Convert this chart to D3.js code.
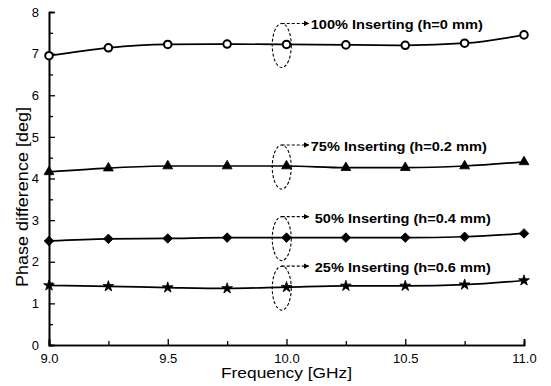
<!DOCTYPE html>
<html>
<head>
<meta charset="utf-8">
<script src="https://cdn.jsdelivr.net/npm/d3@7"></script>
<style>
  body { margin: 0; background: #fff; }
  svg { display: block; font-family: "Liberation Sans", Arial, sans-serif; }
</style>
</head>
<body>
<svg id="chart" width="551" height="386"></svg>
<script>
// data
var freq = [9.0, 9.25, 9.5, 9.75, 10.0, 10.25, 10.5, 10.75, 11.0];
var ins100 = [6.95, 7.14, 7.22, 7.23, 7.22, 7.21, 7.2, 7.25, 7.45];
var ins75 = [4.16, 4.25, 4.3, 4.3, 4.3, 4.26, 4.26, 4.3, 4.4];
var ins50 = [2.5, 2.55, 2.56, 2.58, 2.58, 2.58, 2.58, 2.6, 2.68];
var ins25 = [1.43, 1.41, 1.38, 1.36, 1.39, 1.42, 1.42, 1.45, 1.55];
var seriesNames = ["100% Inserting (h=0 mm)", "75% Inserting (h=0.2 mm)",
                   "50% Inserting (h=0.4 mm)", "25% Inserting (h=0.6 mm)"];
var markers = ["circle", "triangle", "diamond", "star"];
var xTicks = [9.0, 9.5, 10.0, 10.5, 11.0];
var yTicks = [0, 1, 2, 3, 4, 5, 6, 7, 8];

var margin = { left: 49, right: 27, top: 12, bottom: 41 };
var W = 551, H = 386;

var svg = d3.select("#chart");

var xScale = d3.scaleLinear().domain([9, 11]).range([margin.left, W - margin.right]);
var yScale = d3.scaleLinear().domain([0, 8]).range([H - margin.bottom, margin.top]);

var allSeries = [ins100, ins75, ins50, ins25];

// axes: left and bottom only, ticks pointing inwards
var gx = svg.append("g").attr("transform", "translate(0," + yScale(0) + ")");
gx.call(d3.axisBottom(xScale).tickValues(xTicks).tickSize(-6).tickPadding(9)
	.tickFormat(d3.format(".1f")));
gx.append("g").call(d3.axisBottom(xScale).tickValues([9.25, 9.75, 10.25, 10.75])
	.tickSize(-4).tickFormat(""));

var gy = svg.append("g").attr("transform", "translate(" + xScale(9) + ",0)");
gy.call(d3.axisLeft(yScale).tickValues(yTicks).tickSize(-6).tickPadding(10)
	.tickFormat(d3.format("d")));
gy.append("g").call(d3.axisLeft(yScale).tickValues(d3.range(0.5, 8, 1))
	.tickSize(-4).tickFormat(""));

svg.selectAll(".domain").attr("stroke", "#000").attr("stroke-width", 1.6);
svg.selectAll(".tick line").attr("stroke", "#000").attr("stroke-width", 1.3);
svg.selectAll(".tick text").attr("font-size", 13).attr("fill", "#000")
	.attr("font-family", "Liberation Sans, Arial, sans-serif");

svg.append("text")
	.attr("x", xScale(10)).attr("y", 378)
	.attr("text-anchor", "middle").attr("font-size", 14)
	.attr("textLength", 131).attr("lengthAdjust", "spacingAndGlyphs")
	.text("Frequency [GHz]");

svg.append("text")
	.attr("transform", "translate(28,197) rotate(-90)")
	.attr("text-anchor", "middle").attr("font-size", 16)
	.attr("textLength", 180).attr("lengthAdjust", "spacingAndGlyphs")
	.text("Phase difference [deg]");

// curves
var line = d3.line()
	.x(function (d, i) { return xScale(freq[i]); })
	.y(function (d) { return yScale(d); })
	.curve(d3.curveMonotoneX);

svg.selectAll(".curve")
	.data(allSeries)
	.enter()
  .append("path")
	.attr("class", "curve")
	.attr("d", line)
	.attr("fill", "none")
	.attr("stroke", "#000")
	.attr("stroke-width", 1.7);

// markers
var symbolTypes = {
	circle: d3.symbolCircle,
	triangle: d3.symbolTriangle,
	diamond: d3.symbolSquare,
	star: d3.symbolStar
};
var symbolSizes = { circle: 45, triangle: 42, diamond: 46, star: 36 };

allSeries.forEach(function (vals, s) {
	var type = markers[s];
	svg.append("g").selectAll("path")
		.data(vals)
		.enter()
	  .append("path")
		.attr("transform", function (d, i) {
			return "translate(" + xScale(freq[i]) + "," + yScale(d) + ")" +
				(type === "diamond" ? " rotate(45)" : "");
		})
		.attr("d", d3.symbol().type(symbolTypes[type]).size(symbolSizes[type]))
		.attr("fill", type === "circle" ? "#fff" : "#000")
		.attr("stroke", "#000")
		.attr("stroke-width", type === "circle" ? 2 : 0.8);
});

// dashed ellipse + arrow + label for each curve
var defs = svg.append("defs");
defs.append("marker")
	.attr("id", "arrow")
	.attr("viewBox", "0 0 10 10")
	.attr("refX", 9).attr("refY", 5)
	.attr("markerWidth", 5).attr("markerHeight", 5)
	.attr("orient", "auto")
  .append("path")
	.attr("d", "M0,0 L10,5 L0,10 Z")
	.attr("fill", "#000");

allSeries.forEach(function (vals, s) {
	var cx = xScale(9.98), cy = yScale(vals[4]) + 1, ry = 22, rx = 9.5;
	var g = svg.append("g");
	g.append("ellipse")
		.attr("cx", cx).attr("cy", cy)
		.attr("rx", rx).attr("ry", ry)
		.attr("fill", "none").attr("stroke", "#000")
		.attr("stroke-width", 1.1).attr("stroke-dasharray", "3,2");
	g.append("line")
		.attr("x1", cx).attr("y1", cy - ry)
		.attr("x2", cx + 27).attr("y2", cy - ry)
		.attr("stroke", "#000").attr("stroke-width", 1.1)
		.attr("stroke-dasharray", "3,2")
		.attr("marker-end", "url(#arrow)");
	g.append("text")
		.attr("x", cx + 29 + (s >= 2 ? 4 : 0)).attr("y", cy - ry + 6)
		.attr("font-size", 13.5).attr("font-weight", "bold")
		.attr("textLength", s === 0 ? 172 : 176).attr("lengthAdjust", "spacingAndGlyphs")
		.text(seriesNames[s]);
});
</script>
</body>
</html>
